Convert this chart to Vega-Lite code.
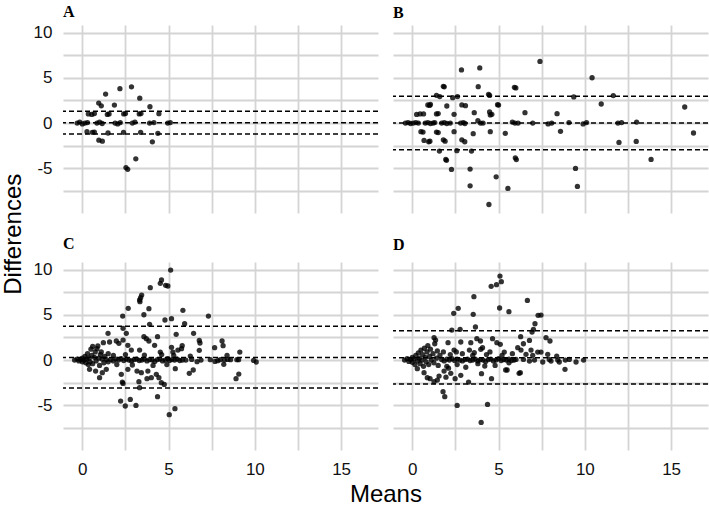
{
"$schema": "https://vega.github.io/schema/vega-lite/v6.json",
"background": "white",
"padding": {"left": 2, "top": 3, "right": 0, "bottom": 0},
"datasets": {
"lines": [
{"p":"A","d":1.29},{"p":"A","d":0.03},{"p":"A","d":-1.22},
{"p":"B","d":2.96},{"p":"B","d":0.0},{"p":"B","d":-2.95},
{"p":"C","d":3.74},{"p":"C","d":0.27},{"p":"C","d":-3.08},
{"p":"D","d":3.24},{"p":"D","d":0.26},{"p":"D","d":-2.65}
],
"pts": [
{"p":"A","m":-0.3,"d":0},{"p":"A","m":-0.15,"d":0.1},{"p":"A","m":0,"d":-0.1},{"p":"A","m":0.15,"d":0},{"p":"A","m":0.3,"d":0.05},
{"p":"A","m":0.85,"d":0},{"p":"A","m":1.0,"d":0.1},{"p":"A","m":1.15,"d":-0.05},
{"p":"A","m":1.9,"d":0},{"p":"A","m":2.05,"d":-0.1},{"p":"A","m":2.2,"d":0.05},
{"p":"A","m":2.9,"d":0},{"p":"A","m":3.05,"d":0.1},
{"p":"A","m":3.9,"d":0},{"p":"A","m":4.15,"d":0.05},
{"p":"A","m":4.95,"d":0},{"p":"A","m":5.1,"d":0.05},
{"p":"A","m":0.35,"d":1.0},{"p":"A","m":0.55,"d":0.95},{"p":"A","m":0.7,"d":1.05},
{"p":"A","m":1.45,"d":0.95},{"p":"A","m":1.55,"d":1.0},
{"p":"A","m":2.4,"d":1.0},{"p":"A","m":2.5,"d":1.05},
{"p":"A","m":3.3,"d":1.0},{"p":"A","m":3.4,"d":1.05},
{"p":"A","m":4.44,"d":1.03},
{"p":"A","m":0.27,"d":-0.95},{"p":"A","m":0.58,"d":-1.03},{"p":"A","m":0.7,"d":-1.0},
{"p":"A","m":1.49,"d":-1.1},{"p":"A","m":2.39,"d":-1.03},{"p":"A","m":3.38,"d":-1.03},{"p":"A","m":4.38,"d":-1.14},
{"p":"A","m":1.35,"d":3.2},{"p":"A","m":2.18,"d":3.8},{"p":"A","m":2.85,"d":4.0},{"p":"A","m":3.33,"d":2.75},{"p":"A","m":0.95,"d":2.2},{"p":"A","m":1.1,"d":1.9},{"p":"A","m":1.86,"d":1.98},{"p":"A","m":3.92,"d":1.8},
{"p":"A","m":0.96,"d":-1.9},{"p":"A","m":1.16,"d":-2.0},{"p":"A","m":4.06,"d":-2.08},{"p":"A","m":3.1,"d":-3.96},{"p":"A","m":2.53,"d":-4.92},{"p":"A","m":2.63,"d":-5.12},

{"p":"B","m":-0.4,"d":0},{"p":"B","m":-0.25,"d":0.05},{"p":"B","m":-0.1,"d":-0.05},{"p":"B","m":0.05,"d":0},{"p":"B","m":0.2,"d":0.05},{"p":"B","m":0.35,"d":0},
{"p":"B","m":0.75,"d":0},{"p":"B","m":0.9,"d":0.05},{"p":"B","m":1.05,"d":-0.05},{"p":"B","m":1.2,"d":0},{"p":"B","m":1.3,"d":0.05},
{"p":"B","m":1.7,"d":0},{"p":"B","m":1.85,"d":0.05},{"p":"B","m":2.0,"d":-0.05},{"p":"B","m":2.2,"d":0},
{"p":"B","m":2.8,"d":0},{"p":"B","m":2.95,"d":0.05},{"p":"B","m":3.05,"d":-0.05},
{"p":"B","m":3.8,"d":0.25},{"p":"B","m":3.95,"d":0},{"p":"B","m":4.1,"d":0},
{"p":"B","m":5.8,"d":0.1},{"p":"B","m":5.95,"d":0},{"p":"B","m":6.13,"d":0},
{"p":"B","m":6.98,"d":0},{"p":"B","m":7.87,"d":-0.1},{"p":"B","m":8.08,"d":0},{"p":"B","m":9.08,"d":0.05},{"p":"B","m":9.9,"d":-0.1},{"p":"B","m":10.1,"d":0.05},{"p":"B","m":11.92,"d":0},{"p":"B","m":12.13,"d":0.05},{"p":"B","m":13.0,"d":0.1},
{"p":"B","m":0.25,"d":0.95},{"p":"B","m":0.45,"d":1.0},{"p":"B","m":0.65,"d":1.0},
{"p":"B","m":1.4,"d":1.0},{"p":"B","m":1.5,"d":1.05},{"p":"B","m":2.42,"d":0.96},{"p":"B","m":3.59,"d":1.14},
{"p":"B","m":4.48,"d":1.22},{"p":"B","m":4.61,"d":0.96},{"p":"B","m":4.52,"d":0.9},{"p":"B","m":6.53,"d":1.14},{"p":"B","m":8.39,"d":1.03},
{"p":"B","m":0.5,"d":-0.96},{"p":"B","m":0.62,"d":-1.0},{"p":"B","m":1.4,"d":-1.0},{"p":"B","m":1.5,"d":-1.05},{"p":"B","m":2.42,"d":-0.96},{"p":"B","m":3.53,"d":-1.18},{"p":"B","m":4.52,"d":-0.96},{"p":"B","m":5.39,"d":-1.14},{"p":"B","m":8.59,"d":-0.92},{"p":"B","m":16.3,"d":-1.1},
{"p":"B","m":0.9,"d":2.0},{"p":"B","m":1.0,"d":1.95},{"p":"B","m":1.05,"d":2.05},{"p":"B","m":2.0,"d":1.88},{"p":"B","m":2.87,"d":2.0},{"p":"B","m":3.08,"d":1.92},{"p":"B","m":4.94,"d":2.03},{"p":"B","m":5.0,"d":1.98},{"p":"B","m":10.95,"d":2.1},{"p":"B","m":15.79,"d":1.77},
{"p":"B","m":1.4,"d":3.06},{"p":"B","m":1.59,"d":2.92},{"p":"B","m":2.34,"d":2.8},{"p":"B","m":2.62,"d":2.92},{"p":"B","m":4.42,"d":3.17},{"p":"B","m":4.48,"d":3.05},{"p":"B","m":9.36,"d":2.88},{"p":"B","m":11.65,"d":3.03},
{"p":"B","m":1.8,"d":4.06},{"p":"B","m":1.85,"d":4.0},{"p":"B","m":3.82,"d":4.02},{"p":"B","m":5.92,"d":3.95},{"p":"B","m":6.0,"d":3.88},
{"p":"B","m":2.85,"d":5.87},{"p":"B","m":3.91,"d":6.09},{"p":"B","m":7.4,"d":6.8},{"p":"B","m":10.42,"d":5.0},
{"p":"B","m":0.68,"d":-1.92},{"p":"B","m":0.95,"d":-2.07},{"p":"B","m":1.02,"d":-2.0},{"p":"B","m":1.8,"d":-1.85},{"p":"B","m":1.9,"d":-2.0},{"p":"B","m":2.87,"d":-1.85},{"p":"B","m":3.04,"d":-2.07},{"p":"B","m":11.98,"d":-2.14},{"p":"B","m":12.98,"d":-2.03},
{"p":"B","m":1.57,"d":-3.1},{"p":"B","m":2.58,"d":-3.06},{"p":"B","m":3.43,"d":-3.1},
{"p":"B","m":1.94,"d":-4.02},{"p":"B","m":1.98,"d":-4.12},{"p":"B","m":5.97,"d":-3.84},{"p":"B","m":6.03,"d":-4.04},{"p":"B","m":13.84,"d":-4.02},
{"p":"B","m":2.27,"d":-5.13},{"p":"B","m":3.35,"d":-5.09},{"p":"B","m":9.46,"d":-5.02},{"p":"B","m":4.86,"d":-5.94},
{"p":"B","m":3.35,"d":-6.94},{"p":"B","m":5.54,"d":-7.23},{"p":"B","m":9.57,"d":-7.0},{"p":"B","m":4.44,"d":-9.0},

{"p":"C","m":5.12,"d":9.94},{"p":"C","m":4.59,"d":8.84},{"p":"C","m":4.52,"d":8.47},{"p":"C","m":4.83,"d":8.25},{"p":"C","m":4.96,"d":8.18},{"p":"C","m":3.94,"d":7.99},{"p":"C","m":3.44,"d":7.18},{"p":"C","m":3.38,"d":6.89},{"p":"C","m":3.32,"d":6.63},{"p":"C","m":3.34,"d":6.45},{"p":"C","m":2.66,"d":5.71},{"p":"C","m":3.86,"d":5.67},{"p":"C","m":2.34,"d":4.86},{"p":"C","m":3.57,"d":5.0},{"p":"C","m":5.83,"d":5.49},{"p":"C","m":5.17,"d":4.57},{"p":"C","m":4.79,"d":4.42},{"p":"C","m":3.9,"d":3.94},{"p":"C","m":5.93,"d":4.01},{"p":"C","m":2.36,"d":3.5},{"p":"C","m":1.49,"d":2.95},{"p":"C","m":2.55,"d":2.95},{"p":"C","m":5.44,"d":2.84},{"p":"C","m":3.57,"d":2.58},{"p":"C","m":3.71,"d":2.36},{"p":"C","m":3.86,"d":2.1},{"p":"C","m":4.36,"d":2.58},{"p":"C","m":4.19,"d":1.62},{"p":"C","m":1.22,"d":1.92},{"p":"C","m":1.58,"d":1.99},{"p":"C","m":1.97,"d":2.1},{"p":"C","m":2.12,"d":1.85},{"p":"C","m":2.36,"d":2.21},{"p":"C","m":2.64,"d":1.62},{"p":"C","m":2.84,"d":1.1},{"p":"C","m":3.32,"d":1.1},{"p":"C","m":5.54,"d":1.1},{"p":"C","m":5.75,"d":1.25},{"p":"C","m":5.25,"d":0.88},{"p":"C","m":4.52,"d":0.88},{"p":"C","m":5.17,"d":1.4},{"p":"C","m":5.79,"d":1.58},
{"p":"C","m":0.42,"d":-1.03},{"p":"C","m":0.77,"d":-1.22},{"p":"C","m":1.0,"d":-1.95},{"p":"C","m":1.16,"d":-1.4},{"p":"C","m":1.39,"d":-1.03},{"p":"C","m":2.26,"d":-1.58},{"p":"C","m":2.64,"d":-1.03},{"p":"C","m":3.17,"d":-1.22},{"p":"C","m":3.42,"d":-1.4},{"p":"C","m":3.8,"d":-1.22},{"p":"C","m":4.0,"d":-1.95},{"p":"C","m":4.29,"d":-1.58},{"p":"C","m":2.32,"d":-2.43},{"p":"C","m":2.36,"d":-2.58},{"p":"C","m":3.28,"d":-2.39},{"p":"C","m":3.32,"d":-3.06},{"p":"C","m":3.75,"d":-2.06},{"p":"C","m":4.44,"d":-1.95},{"p":"C","m":4.58,"d":-2.5},{"p":"C","m":4.75,"d":-2.69},{"p":"C","m":5.39,"d":-0.96},{"p":"C","m":4.36,"d":-4.05},{"p":"C","m":2.22,"d":-4.53},{"p":"C","m":2.49,"d":-5.08},{"p":"C","m":2.78,"d":-4.35},{"p":"C","m":3.11,"d":-5.01},{"p":"C","m":5.37,"d":-5.38},{"p":"C","m":5.04,"d":-6.04},
{"p":"C","m":7.31,"d":4.86},{"p":"C","m":6.45,"d":2.95},{"p":"C","m":6.78,"d":2.17},{"p":"C","m":6.82,"d":1.88},{"p":"C","m":6.78,"d":1.07},{"p":"C","m":7.67,"d":1.36},{"p":"C","m":8.1,"d":2.1},{"p":"C","m":8.16,"d":1.58},{"p":"C","m":9.13,"d":0.88},{"p":"C","m":6.2,"d":-1.47},{"p":"C","m":6.43,"d":-1.1},{"p":"C","m":8.91,"d":-2.06},{"p":"C","m":9.07,"d":-1.55},{"p":"C","m":8.2,"d":-0.48},{"p":"C","m":8.39,"d":0.52},
{"p":"C","m":6.0,"d":0},{"p":"C","m":6.26,"d":0.44},{"p":"C","m":6.34,"d":0.07},{"p":"C","m":6.65,"d":-0.18},{"p":"C","m":6.88,"d":0},{"p":"C","m":7.42,"d":0.04},{"p":"C","m":7.69,"d":-0.15},{"p":"C","m":7.85,"d":-0.07},{"p":"C","m":8.0,"d":0.04},{"p":"C","m":8.24,"d":0},{"p":"C","m":8.43,"d":0.07},{"p":"C","m":8.59,"d":0.04},{"p":"C","m":8.96,"d":0.04},{"p":"C","m":9.06,"d":0.04},{"p":"C","m":9.93,"d":-0.04},{"p":"C","m":10.08,"d":-0.22},
{"p":"C","m":-0.45,"d":0},{"p":"C","m":-0.3,"d":0.1},{"p":"C","m":-0.2,"d":-0.1},{"p":"C","m":-0.1,"d":0.05},{"p":"C","m":0,"d":0.2},{"p":"C","m":0,"d":-0.2},{"p":"C","m":0.1,"d":0},{"p":"C","m":0.15,"d":0.4},{"p":"C","m":0.2,"d":-0.3},{"p":"C","m":0.25,"d":0.1},{"p":"C","m":0.3,"d":0.7},{"p":"C","m":0.35,"d":-0.5},{"p":"C","m":0.4,"d":0.2},{"p":"C","m":0.45,"d":-0.2},{"p":"C","m":0.5,"d":1.2},{"p":"C","m":0.55,"d":0.5},{"p":"C","m":0.6,"d":1.5},{"p":"C","m":0.6,"d":-0.4},{"p":"C","m":0.7,"d":0.3},{"p":"C","m":0.75,"d":0.9},{"p":"C","m":0.8,"d":-0.1},{"p":"C","m":0.85,"d":1.25},{"p":"C","m":0.9,"d":1.55},{"p":"C","m":0.95,"d":0.2},{"p":"C","m":1.0,"d":-0.6},{"p":"C","m":1.05,"d":0.6},{"p":"C","m":1.1,"d":0.9},{"p":"C","m":1.15,"d":0.1},{"p":"C","m":1.25,"d":-0.3},{"p":"C","m":1.3,"d":0.4},{"p":"C","m":1.4,"d":0.05},{"p":"C","m":1.5,"d":-0.2},{"p":"C","m":1.5,"d":0.7},
{"p":"C","m":1.65,"d":0.05},{"p":"C","m":1.8,"d":-0.1},{"p":"C","m":1.95,"d":0.1},{"p":"C","m":2.1,"d":0},{"p":"C","m":2.25,"d":0.15},{"p":"C","m":2.4,"d":-0.05},{"p":"C","m":2.55,"d":0.1},{"p":"C","m":2.7,"d":0},{"p":"C","m":2.85,"d":-0.1},{"p":"C","m":3.0,"d":0.05},{"p":"C","m":3.15,"d":0.1},{"p":"C","m":3.3,"d":-0.05},{"p":"C","m":3.45,"d":0},{"p":"C","m":3.6,"d":0.1},{"p":"C","m":3.75,"d":-0.1},{"p":"C","m":3.9,"d":0.05},{"p":"C","m":4.05,"d":0},{"p":"C","m":4.2,"d":-0.15},{"p":"C","m":4.35,"d":0.05},{"p":"C","m":4.5,"d":0.1},{"p":"C","m":4.65,"d":-0.1},{"p":"C","m":4.8,"d":0},{"p":"C","m":4.95,"d":0.15},{"p":"C","m":5.05,"d":-0.05},{"p":"C","m":5.2,"d":0.05},{"p":"C","m":5.35,"d":0},{"p":"C","m":5.5,"d":0.1},{"p":"C","m":5.65,"d":-0.05},{"p":"C","m":5.8,"d":0},
{"p":"C","m":1.8,"d":0.5},{"p":"C","m":2.0,"d":-0.5},{"p":"C","m":2.5,"d":0.6},{"p":"C","m":2.9,"d":-0.55},{"p":"C","m":3.6,"d":0.55},{"p":"C","m":4.1,"d":-0.6},{"p":"C","m":4.6,"d":0.6},{"p":"C","m":4.9,"d":-0.5},{"p":"C","m":5.3,"d":0.5},

{"p":"D","m":5.08,"d":9.28},{"p":"D","m":5.16,"d":8.66},{"p":"D","m":4.88,"d":8.32},{"p":"D","m":4.57,"d":8.14},{"p":"D","m":3.57,"d":7.0},{"p":"D","m":2.66,"d":5.71},{"p":"D","m":2.4,"d":5.16},{"p":"D","m":5.06,"d":5.75},{"p":"D","m":5.6,"d":5.34},{"p":"D","m":3.53,"d":5.05},{"p":"D","m":2.29,"d":3.31},{"p":"D","m":2.77,"d":3.39},{"p":"D","m":3.66,"d":3.65},{"p":"D","m":1.26,"d":2.47},{"p":"D","m":1.35,"d":2.2},{"p":"D","m":2.07,"d":1.92},{"p":"D","m":2.81,"d":1.99},{"p":"D","m":3.39,"d":1.92},{"p":"D","m":3.74,"d":2.36},{"p":"D","m":3.95,"d":2.1},{"p":"D","m":4.07,"d":1.36},{"p":"D","m":4.65,"d":2.36},{"p":"D","m":4.9,"d":1.92},{"p":"D","m":5.1,"d":1.73},{"p":"D","m":2.42,"d":1.1},{"p":"D","m":2.55,"d":0.9},{"p":"D","m":3.31,"d":1.1},{"p":"D","m":3.59,"d":0.81},{"p":"D","m":3.97,"d":1.18},{"p":"D","m":5.33,"d":0.88},
{"p":"D","m":0.29,"d":-0.96},{"p":"D","m":0.68,"d":-1.4},{"p":"D","m":0.87,"d":-1.95},{"p":"D","m":1.03,"d":-2.06},{"p":"D","m":1.26,"d":-2.39},{"p":"D","m":1.45,"d":-2.21},{"p":"D","m":1.55,"d":-1.77},{"p":"D","m":1.84,"d":-1.22},{"p":"D","m":1.95,"d":-1.9},{"p":"D","m":2.23,"d":-1.47},{"p":"D","m":2.48,"d":-2.06},{"p":"D","m":2.81,"d":-1.69},{"p":"D","m":2.1,"d":-0.9},{"p":"D","m":3.26,"d":-2.43},{"p":"D","m":4.01,"d":-1.51},{"p":"D","m":4.59,"d":-2.06},{"p":"D","m":4.2,"d":-0.66},{"p":"D","m":5.41,"d":-1.1},{"p":"D","m":5.5,"d":-1.1},{"p":"D","m":1.78,"d":-3.5},{"p":"D","m":1.88,"d":-4.05},{"p":"D","m":2.6,"d":-5.01},{"p":"D","m":4.36,"d":-4.9},{"p":"D","m":3.99,"d":-6.89},{"p":"D","m":6.26,"d":-1.4},
{"p":"D","m":6.67,"d":6.59},{"p":"D","m":7.29,"d":4.94},{"p":"D","m":7.46,"d":4.97},{"p":"D","m":7.11,"d":4.01},{"p":"D","m":6.94,"d":3.09},{"p":"D","m":7.02,"d":3.39},{"p":"D","m":6.28,"d":2.58},{"p":"D","m":6.44,"d":1.8},{"p":"D","m":6.79,"d":2.17},{"p":"D","m":7.75,"d":2.47},{"p":"D","m":7.98,"d":2.1},{"p":"D","m":6.11,"d":1.36},{"p":"D","m":6.3,"d":1.1},{"p":"D","m":6.88,"d":1.1},{"p":"D","m":6.59,"d":0.63},{"p":"D","m":7.27,"d":0.88},{"p":"D","m":7.46,"d":0.88},{"p":"D","m":6.98,"d":0.52},{"p":"D","m":7.85,"d":0.63},{"p":"D","m":8.37,"d":0.44},
{"p":"D","m":6.01,"d":0.07},{"p":"D","m":6.44,"d":0.07},{"p":"D","m":6.79,"d":-0.11},{"p":"D","m":7.08,"d":0},{"p":"D","m":7.56,"d":-0.22},{"p":"D","m":7.94,"d":0.07},{"p":"D","m":8.04,"d":-0.11},{"p":"D","m":8.43,"d":0},{"p":"D","m":8.52,"d":-0.22},{"p":"D","m":8.87,"d":0},{"p":"D","m":9.1,"d":0.07},{"p":"D","m":9.49,"d":-0.22},{"p":"D","m":9.93,"d":0},{"p":"D","m":8.85,"d":-1.03},{"p":"D","m":6.19,"d":-1.47},
{"p":"D","m":-0.45,"d":0},{"p":"D","m":-0.3,"d":0.15},{"p":"D","m":-0.2,"d":-0.15},{"p":"D","m":-0.1,"d":0.05},{"p":"D","m":0,"d":0.3},{"p":"D","m":0,"d":-0.25},{"p":"D","m":0.1,"d":0.1},{"p":"D","m":0.15,"d":-0.5},{"p":"D","m":0.2,"d":0.5},{"p":"D","m":0.3,"d":-0.1},{"p":"D","m":0.35,"d":0.8},{"p":"D","m":0.4,"d":0.2},{"p":"D","m":0.45,"d":-0.4},{"p":"D","m":0.5,"d":1.1},{"p":"D","m":0.55,"d":0},{"p":"D","m":0.6,"d":0.6},{"p":"D","m":0.65,"d":-0.7},{"p":"D","m":0.7,"d":1.3},{"p":"D","m":0.75,"d":0.3},{"p":"D","m":0.8,"d":-0.2},{"p":"D","m":0.85,"d":0.9},{"p":"D","m":0.9,"d":1.6},{"p":"D","m":0.95,"d":-0.5},{"p":"D","m":1.0,"d":0.4},{"p":"D","m":1.05,"d":1.2},{"p":"D","m":1.1,"d":0},{"p":"D","m":1.2,"d":0.7},{"p":"D","m":1.25,"d":-0.3},{"p":"D","m":1.3,"d":1.8},{"p":"D","m":1.4,"d":0.2},{"p":"D","m":1.45,"d":1.0},{"p":"D","m":1.5,"d":-0.6},{"p":"D","m":1.6,"d":0.5},
{"p":"D","m":1.7,"d":0.05},{"p":"D","m":1.85,"d":-0.1},{"p":"D","m":2.0,"d":0.1},{"p":"D","m":2.15,"d":0},{"p":"D","m":2.3,"d":0.15},{"p":"D","m":2.45,"d":-0.05},{"p":"D","m":2.6,"d":0.1},{"p":"D","m":2.75,"d":0},{"p":"D","m":2.9,"d":-0.1},{"p":"D","m":3.05,"d":0.05},{"p":"D","m":3.2,"d":0.1},{"p":"D","m":3.35,"d":-0.05},{"p":"D","m":3.5,"d":0},{"p":"D","m":3.65,"d":0.1},{"p":"D","m":3.8,"d":-0.1},{"p":"D","m":3.95,"d":0.05},{"p":"D","m":4.1,"d":0},{"p":"D","m":4.25,"d":-0.15},{"p":"D","m":4.4,"d":0.05},{"p":"D","m":4.55,"d":0.1},{"p":"D","m":4.7,"d":-0.1},{"p":"D","m":4.85,"d":0},{"p":"D","m":5.0,"d":0.15},{"p":"D","m":5.15,"d":-0.05},{"p":"D","m":5.3,"d":0.05},{"p":"D","m":5.45,"d":0},{"p":"D","m":5.6,"d":0.1},{"p":"D","m":5.75,"d":-0.05},{"p":"D","m":5.9,"d":0},
{"p":"D","m":1.8,"d":0.9},{"p":"D","m":2.0,"d":-0.7},{"p":"D","m":2.2,"d":0.6},{"p":"D","m":2.6,"d":-0.5},{"p":"D","m":2.9,"d":0.7},{"p":"D","m":3.1,"d":-0.8},{"p":"D","m":3.5,"d":0.5},{"p":"D","m":3.8,"d":-0.4},{"p":"D","m":4.3,"d":0.6},{"p":"D","m":4.5,"d":0.9},{"p":"D","m":4.8,"d":-0.6},{"p":"D","m":5.2,"d":0.5},{"p":"D","m":5.6,"d":-0.3},{"p":"D","m":5.8,"d":0.7}
]
},
"title": {"text": "Differences", "orient": "left", "anchor": "middle", "font": "Liberation Sans", "fontSize": 24, "fontWeight": "normal", "color": "black", "offset": 7, "dx": 21},
"spacing": 22,
"vconcat": [
{"spacing": 13, "hconcat": [
{"width": 315, "height": 188, "title": {"text": "A", "anchor": "start", "frame": "group", "font": "Liberation Serif", "fontSize": 16, "fontWeight": "bold", "color": "black", "offset": 4},
 "encoding": {"y": {"field": "d", "type": "quantitative", "scale": {"domain": [-9.94, 10.83], "nice": false, "zero": false}, "axis": {"values": [-7.5,-5,-2.5,0,2.5,5,7.5,10], "labelExpr": "datum.value % 5 === 0 ? toString(datum.value) : ''", "labelOverlap": false, "title": null}}},
 "layer": [
 {"data": {"name": "pts"}, "transform": [{"filter": "datum.p === 'A'"}], "mark": {"type": "circle", "size": 28, "opacity": 0.8, "color": "black"},
  "encoding": {"x": {"field": "m", "type": "quantitative", "scale": {"domain": [-1.12, 17.14], "nice": false, "zero": false}, "axis": {"values": [0,2.5,5,7.5,10,12.5,15], "labels": false, "title": null}}}},
 {"data": {"name": "lines"}, "transform": [{"filter": "datum.p === 'A'"}], "mark": {"type": "rule", "color": "black", "strokeWidth": 1.5, "strokeDash": [5, 3]}, "encoding": {}}
 ]},
{"width": 315, "height": 188, "title": {"text": "B", "anchor": "start", "frame": "group", "font": "Liberation Serif", "fontSize": 16, "fontWeight": "bold", "color": "black", "offset": 4},
 "encoding": {"y": {"field": "d", "type": "quantitative", "scale": {"domain": [-9.94, 10.83], "nice": false, "zero": false}, "axis": {"values": [-7.5,-5,-2.5,0,2.5,5,7.5,10], "labels": false, "title": null}}},
 "layer": [
 {"data": {"name": "pts"}, "transform": [{"filter": "datum.p === 'B'"}], "mark": {"type": "circle", "size": 28, "opacity": 0.8, "color": "black"},
  "encoding": {"x": {"field": "m", "type": "quantitative", "scale": {"domain": [-1.12, 17.14], "nice": false, "zero": false}, "axis": {"values": [0,2.5,5,7.5,10,12.5,15], "labels": false, "title": null}}}},
 {"data": {"name": "lines"}, "transform": [{"filter": "datum.p === 'B'"}], "mark": {"type": "rule", "color": "black", "strokeWidth": 1.5, "strokeDash": [5, 3]}, "encoding": {}}
 ]}
]},
{"spacing": 13, "title": {"text": "Means", "orient": "bottom", "anchor": "middle", "font": "Liberation Sans", "fontSize": 24, "fontWeight": "normal", "color": "black", "offset": 6, "dx": 15},
 "hconcat": [
{"width": 315, "height": 188, "title": {"text": "C", "anchor": "start", "frame": "group", "font": "Liberation Serif", "fontSize": 16, "fontWeight": "bold", "color": "black", "offset": 9},
 "encoding": {"y": {"field": "d", "type": "quantitative", "scale": {"domain": [-9.94, 10.83], "nice": false, "zero": false}, "axis": {"values": [-7.5,-5,-2.5,0,2.5,5,7.5,10], "labelExpr": "datum.value % 5 === 0 ? toString(datum.value) : ''", "labelOverlap": false, "title": null}}},
 "layer": [
 {"data": {"name": "pts"}, "transform": [{"filter": "datum.p === 'C'"}], "mark": {"type": "circle", "size": 28, "opacity": 0.8, "color": "black"},
  "encoding": {"x": {"field": "m", "type": "quantitative", "scale": {"domain": [-1.12, 17.14], "nice": false, "zero": false}, "axis": {"values": [0,2.5,5,7.5,10,12.5,15], "labelExpr": "datum.value % 5 === 0 ? toString(datum.value) : ''", "labelOverlap": false, "title": null}}}},
 {"data": {"name": "lines"}, "transform": [{"filter": "datum.p === 'C'"}], "mark": {"type": "rule", "color": "black", "strokeWidth": 1.5, "strokeDash": [5, 3]}, "encoding": {}}
 ]},
{"width": 315, "height": 188, "title": {"text": "D", "anchor": "start", "frame": "group", "font": "Liberation Serif", "fontSize": 16, "fontWeight": "bold", "color": "black", "offset": 9},
 "encoding": {"y": {"field": "d", "type": "quantitative", "scale": {"domain": [-9.94, 10.83], "nice": false, "zero": false}, "axis": {"values": [-7.5,-5,-2.5,0,2.5,5,7.5,10], "labels": false, "title": null}}},
 "layer": [
 {"data": {"name": "pts"}, "transform": [{"filter": "datum.p === 'D'"}], "mark": {"type": "circle", "size": 28, "opacity": 0.8, "color": "black"},
  "encoding": {"x": {"field": "m", "type": "quantitative", "scale": {"domain": [-1.12, 17.14], "nice": false, "zero": false}, "axis": {"values": [0,2.5,5,7.5,10,12.5,15], "labelExpr": "datum.value % 5 === 0 ? toString(datum.value) : ''", "labelOverlap": false, "title": null}}}},
 {"data": {"name": "lines"}, "transform": [{"filter": "datum.p === 'D'"}], "mark": {"type": "rule", "color": "black", "strokeWidth": 1.5, "strokeDash": [5, 3]}, "encoding": {}}
 ]}
]}
],
"config": {
 "view": {"stroke": null},
 "axis": {"grid": true, "gridColor": "#d4d4d4", "gridWidth": 1.8, "domain": false, "ticks": false, "tickSize": 0, "labelFont": "Liberation Sans", "labelFontSize": 17, "labelColor": "#111111", "labelPadding": 11},
 "axisX": {"labelPadding": 11}
}
}
